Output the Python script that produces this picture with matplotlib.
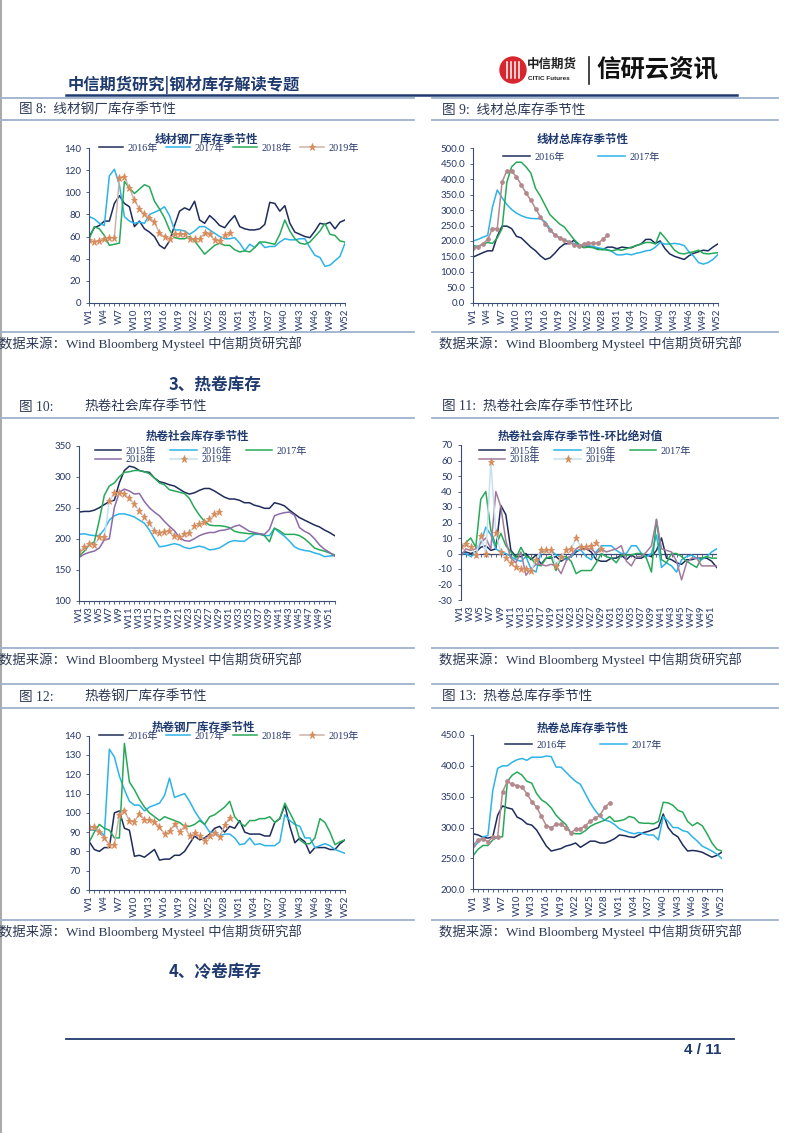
import matplotlib
matplotlib.use('Agg')
import matplotlib.pyplot as plt
from matplotlib.lines import Line2D
from matplotlib.patches import Ellipse
from matplotlib.font_manager import FontProperties
import numpy as np

plt.rcParams['font.family'] = ['Noto Sans CJK SC', 'DejaVu Sans']

# ---------------- data ----------------
weeks = list(range(1, 53))

# Fig 8: wire rod mill inventory
w1_2016 = [60,68,70,74,74,90,97,90,87,69,74,67,64,60,52,49,56,70,83,86,84,92,75,72,79,75,70,68,74,79,69,67,66,66,67,71,91,90,83,88,72,64,62,60,59,65,72,71,73,67,73,75]
w1_2017 = [78,76,72,70,115,121,107,78,74,72,73,72,80,82,84,87,79,66,66,65,62,65,69,69,66,63,60,58,58,59,54,47,53,50,55,50,51,51,55,58,57,57,58,58,50,43,41,33,34,38,42,54]
w1_2018 = [58,69,67,61,52,53,54,110,104,99,103,107,105,92,85,77,66,59,58,58,60,56,50,44,48,52,54,52,52,48,46,47,46,50,55,55,54,53,62,75,65,58,54,53,55,60,65,72,62,61,56,55]
w1_2019 = [57,55,56,58,59,59,113,114,104,93,85,80,77,73,63,60,58,62,62,62,58,58,58,63,62,57,56,61,63]

# Fig 9: wire rod total inventory
w2_2016 = [148,155,162,168,168,215,248,248,240,215,210,195,180,168,152,140,145,160,178,190,192,202,188,180,182,180,175,172,180,180,175,180,178,178,185,190,205,205,192,200,175,158,150,145,140,152,160,165,170,168,180,190]
w2_2017 = [200,205,212,218,310,365,340,318,302,290,282,276,273,272,272,262,240,218,210,203,197,192,187,185,185,182,178,175,172,165,155,155,158,155,160,163,168,170,180,195,190,190,192,190,185,165,150,130,125,130,140,155]
w2_2018 = [185,182,190,195,192,210,240,390,440,455,455,440,420,370,345,315,285,270,255,245,225,205,190,178,180,178,172,172,170,168,172,170,175,180,185,190,195,195,190,228,210,190,170,160,158,162,165,170,160,158,160,162]
w2_2019 = [178,180,190,205,240,240,390,428,425,408,382,355,332,305,278,255,235,220,210,203,195,188,182,190,193,193,192,205,218]

# Fig 10: HRC social inventory
w3_2015 = [243,244,244,246,250,255,260,262,290,310,317,315,310,308,307,298,292,290,287,285,280,275,272,274,278,281,281,277,272,267,264,264,262,258,258,254,252,249,249,258,256,253,246,240,234,230,226,222,219,214,210,205]
w3_2016 = [207,208,206,205,205,215,230,237,240,240,238,235,230,225,214,200,187,188,190,192,190,186,184,186,188,186,182,183,185,190,195,197,196,196,202,207,207,205,205,217,210,204,196,187,183,181,180,177,175,171,172,173]
w3_2017 = [172,180,190,195,230,270,285,290,300,307,308,310,310,308,305,298,290,287,279,277,275,273,265,250,238,228,222,221,221,220,218,212,210,209,208,208,208,205,195,217,213,207,207,207,205,200,193,185,182,180,177,174]
w3_2018 = [170,175,178,180,185,198,200,250,275,280,277,272,273,260,250,243,237,228,220,213,202,197,196,200,205,208,210,210,213,214,216,220,222,217,212,210,208,207,215,237,240,242,243,238,218,212,208,200,190,183,178,172]
w3_2019 = [180,186,191,190,202,202,261,274,274,272,265,256,244,235,225,213,209,211,213,205,203,207,210,220,223,227,232,240,243]

# Fig 11: HRC social inventory week-on-week change
w4_2015 = [0,1,0,1,4,5,2,3,31,25,2,-2,-2,0,-4,-1,-7,-3,-3,-2,-5,-3,-2,1,3,3,1,-4,-5,-5,-3,-3,-1,-4,-1,-3,-3,-1,-2,2,10,-3,-4,-6,-7,-4,-4,-3,-3,-3,-5,-9]
w4_2016 = [0,0,-2,0,7,17,12,3,1,0,-2,-4,-5,-2,-10,-12,1,2,2,-1,-2,-4,-2,2,2,-2,-4,1,5,5,5,2,0,0,5,5,0,-2,0,12,-9,-6,-8,-12,-4,-2,-1,-3,-4,-2,1,3]
w4_2017 = [3,7,10,4,35,40,15,5,13,5,1,-3,4,-2,-3,-7,-8,-3,-2,-11,-2,-2,-5,-13,-11,-11,-11,-6,0,-2,-3,-6,-1,-1,-1,0,0,-3,-12,22,-4,-6,0,0,-2,-5,-7,-9,-3,-2,-3,-3]
w4_2018 = [-2,3,2,3,7,10,3,40,30,8,-3,-6,1,-14,-10,-7,-7,-8,-7,-8,-13,-5,-1,3,5,3,3,0,3,1,2,3,5,-5,-8,-2,-2,1,5,22,3,2,1,-5,-17,-6,-3,-3,-8,-8,-8,-8]
w4_2019 = [5,6,4,-1,11,0,59,13,1,-3,-6,-9,-10,-10,-11,-4,2,2,2,-8,-2,2,3,10,4,4,5,7,3]

# Fig 12: HRC mill inventory
w5_2016 = [85,81,80,82,82,100,101,92,91,77.5,78,77,79,81,75.5,76,76,78,78,80,84,88,86,87,89,92,93,90,93,92,96,90,89,89,89,88,88,95,97,104,93,84.5,87,85,79,82,82,82,81,81,84,86]
w5_2017 = [91,91,91,88,133,129,119,112,106,104,104,101,103,104,105,109,118,108,109,110,106,101,97,94,90,90,88,89,89,87,83.5,84,87,83.5,84,83,83,83,85,99,96,94,93,87,87,82,83,84,83,81,80,79]
w5_2018 = [85,90,94,92,91,87,87,136,116,112,107,103,100,98,96,98,97,96,95,93,93,94,96,94,98,99,101,103,106,98,95,93,96,96,97,97,98,95,97,105,100,95,86,84,84,87,97,95,90,83.5,85,86]
w5_2019 = [92.5,92.5,90,87,83.5,83.5,99,101,96,95.5,99.5,96.5,96.5,95.5,92.5,89,90.5,94,90,93,88,89.5,88,85.5,88,89.5,87.5,93.5,97.5]

# Fig 13: HRC total inventory
w6_2016 = [290,288,284,283,285,320,335,332,330,317,313,306,304,296,283,270,262,264,266,270,272,275,268,273,278,278,275,275,278,282,288,287,285,284,288,292,294,297,300,322,300,290,285,272,262,263,262,260,256,252,255,260]
w6_2017 = [268,276,285,287,360,396,400,400,406,410,412,409,414,414,414,416,415,398,398,390,382,375,370,355,340,328,318,312,310,305,298,295,292,290,292,290,288,288,280,318,310,300,300,295,293,285,278,270,266,262,257,250]
w6_2018 = [255,265,271,271,280,285,285,375,385,390,385,375,372,355,345,340,332,320,312,305,292,290,290,295,302,306,309,312,318,310,311,313,318,316,308,307,307,306,310,341,340,336,328,325,310,303,308,303,290,275,265,262]
w6_2019 = [272,280,282,277,285,285,358,375,370,368,366,355,342,333,318,303,300,305,305,300,292,297,298,303,310,315,320,333,340]

# ---------------- style ----------------
W, H = 802, 1133
fig = plt.figure(figsize=(W / 100, H / 100), dpi=100)

C_DARK = '#1E2C5A'
C_BLUE = '#2DB3E8'
C_GREEN = '#27A95A'
C_PURPLE = '#8B6BA8'
C_PURPLE4 = '#A27A9E'
C_ORANGE = '#D98B5A'
C_19A = '#CDB3AC'
C_19T = '#B3898E'
C_19C = '#C8E0EE'
TXT = '#26386A'
AXC = '#3B4C75'
NAVY = '#1F3A6E'
LINEC = '#9DB1CE'

TICKFONT = 'Lato'
TICKSIZE = 7.0
LEGPROP = FontProperties(family=['Liberation Serif', 'Noto Sans CJK SC'], size=7.3)
SERIF_CJK = ['Liberation Serif', 'Noto Sans CJK SC']


def fx(x):
    return x / W


def fy(y):
    return 1 - y / H


def add_ax(x0, y0, x1, y1):
    return fig.add_axes([x0 / W, 1 - y1 / H, (x1 - x0) / W, (y1 - y0) / H])


def style_axes(ax, ylim, yticks, yfmt, xstep, zero_axis=False):
    ax.set_xlim(1, 52)
    ax.set_ylim(*ylim)
    ax.set_yticks(yticks)
    ax.set_yticklabels([yfmt.format(v) for v in yticks], fontsize=TICKSIZE,
                       color=TXT, family=TICKFONT)
    ax.set_xticks(weeks)
    ax.set_xticklabels([f'W{w}' if (w - 1) % xstep == 0 else '' for w in weeks],
                       rotation=90, fontsize=TICKSIZE, color=TXT, family=TICKFONT)
    for s in ['top', 'right']:
        ax.spines[s].set_visible(False)
    for s in ['left', 'bottom']:
        ax.spines[s].set_color(AXC)
        ax.spines[s].set_linewidth(0.8)
    ax.tick_params(axis='both', length=2.5, width=0.6, color=AXC, pad=1.5)
    ax.tick_params(axis='y', pad=3.5)
    ax.patch.set_alpha(0)
    if zero_axis:
        ax.spines['bottom'].set_visible(False)
        ax.tick_params(axis='x', length=0, pad=4)
        ax.axhline(0, color=AXC, lw=0.9, zorder=1)
        ax.vlines(weeks, -2.0, 0, color=AXC, lw=0.6, zorder=1)


def legend_row(ax, handles, labels, x, y, hl, cs, add=False):
    leg = ax.legend(handles, labels, ncol=len(handles), loc='center left',
                    bbox_to_anchor=(fx(x), fy(y)), bbox_transform=fig.transFigure,
                    frameon=False, prop=LEGPROP, handlelength=hl, handletextpad=0.45,
                    columnspacing=cs, borderpad=0, borderaxespad=0)
    for t in leg.get_texts():
        t.set_color(TXT)
    if add:
        ax.add_artist(leg)
    return leg


def title(x, y, s):
    fig.text(fx(x), fy(y), s, fontsize=8.3, weight='bold', color=NAVY,
             ha='center', va='center')


MK19 = dict(marker='*', ms=5.2, mfc=C_ORANGE, mec=C_ORANGE, mew=0.6)

# ---------------- page decorations ----------------
fig.add_artist(Line2D([fx(1), fx(1)], [0, 1], color='#9A9A9A', lw=1.2))

fig.text(fx(68), fy(85), '中信期货研究|钢材库存解读专题', fontsize=11.7,
         weight='bold', color=NAVY, va='center')
fig.add_artist(Ellipse((fx(513), fy(70)), 26 / W, 26 / H, color='#D7262E'))
for dx in (-6, -2, 2, 6):
    fig.add_artist(Line2D([fx(513 + dx), fx(513 + dx)], [fy(62), fy(78)],
                          color='white', lw=1.1))
fig.text(fx(527), fy(64), '中信期货', fontsize=9, weight='bold', color='#222222', va='center')
fig.text(fx(528), fy(79), 'CITIC Futures', fontsize=4.6, weight='bold',
         color='#222222', va='center', family='Liberation Sans')
fig.add_artist(Line2D([fx(589), fx(589)], [fy(57), fy(84)], color='#222222', lw=1.2))
fig.text(fx(596), fy(70), '信研云资讯', fontsize=17.6, weight='bold', color='#111111', va='center')

fig.add_artist(Line2D([fx(66), fx(737)], [fy(95), fy(95)], color=NAVY, lw=1.8))
for yy in (98, 120, 332, 418, 648, 684, 708, 920):
    fig.add_artist(Line2D([fx(0), fx(414)], [fy(yy), fy(yy)], color=LINEC, lw=1.3))
    fig.add_artist(Line2D([fx(432), fx(778)], [fy(yy), fy(yy)], color=LINEC, lw=1.3))

CAPC = '#2E3B55'
def caption(x, y, s):
    fig.text(fx(x), fy(y), s, fontsize=9.8, color=CAPC, va='center', family=SERIF_CJK)

caption(19, 110, '图 8:  线材钢厂库存季节性')
caption(442, 110, '图 9:  线材总库存季节性')
caption(19, 407, '图 10:')
caption(84, 407, '热卷社会库存季节性')
caption(442, 407, '图 11:  热卷社会库存季节性环比')
caption(19, 697, '图 12:')
caption(84, 697, '热卷钢厂库存季节性')
caption(442, 697, '图 13:  热卷总库存季节性')

SRC = '数据来源：Wind Bloomberg Mysteel 中信期货研究部'
for (xx, yy) in ((-1, 344), (439, 344), (-1, 660), (439, 660), (-1, 932), (439, 932)):
    fig.text(fx(xx), fy(yy), SRC, fontsize=9.6, color=CAPC, va='center', family=SERIF_CJK)

fig.text(fx(169), fy(385), '3、热卷库存', fontsize=12, weight='bold', color=NAVY, va='center')
fig.text(fx(169), fy(972), '4、冷卷库存', fontsize=12, weight='bold', color=NAVY, va='center')
fig.add_artist(Line2D([fx(66), fx(734)], [fy(1039), fy(1039)], color=NAVY, lw=1.3))
fig.text(fx(721), fy(1050), '4 / 11', fontsize=11, weight='bold', color=NAVY,
         ha='right', va='center', family='Liberation Sans')

# ---------------- chart 1 ----------------
ax = add_ax(89.3, 148.3, 345, 302.7)
l1, = ax.plot(weeks, w1_2016, color=C_DARK, lw=1.1)
l2, = ax.plot(weeks, w1_2017, color=C_BLUE, lw=1.1)
l3, = ax.plot(weeks, w1_2018, color=C_GREEN, lw=1.1)
l4, = ax.plot(weeks[:len(w1_2019)], w1_2019, color=C_19A, lw=1.1, **MK19)
style_axes(ax, (0, 140), list(range(0, 141, 20)), '{:d}', 3)
legend_row(ax, [l1, l2, l3, l4], ['2016年', '2017年', '2018年', '2019年'], 99, 148, 2.4, 0.75)
title(206, 139, '线材钢厂库存季节性')

# ---------------- chart 2 ----------------
ax = add_ax(473.3, 148.3, 717.7, 302.7)
l1, = ax.plot(weeks, w2_2016, color=C_DARK, lw=1.1)
l2, = ax.plot(weeks, w2_2017, color=C_BLUE, lw=1.1)
l3, = ax.plot(weeks, w2_2018, color=C_GREEN, lw=1.1)
l4, = ax.plot(weeks[:len(w2_2019)], w2_2019, color=C_19T, lw=1.1, marker='o',
              ms=2.4, mfc=C_19T, mec=C_19T)
style_axes(ax, (0, 500), list(range(0, 501, 50)), '{:.1f}', 3)
legend_row(ax, [l1, l2], ['2016年', '2017年'], 503, 157, 2.7, 3.2)
title(583, 139, '线材总库存季节性')

# ---------------- chart 3 ----------------
ax = add_ax(79.3, 445.7, 334.5, 600.7)
l0, = ax.plot(weeks, w3_2015, color=C_DARK, lw=1.1)
l1, = ax.plot(weeks, w3_2016, color=C_BLUE, lw=1.1)
l2, = ax.plot(weeks, w3_2017, color=C_GREEN, lw=1.1)
l3, = ax.plot(weeks, w3_2018, color=C_PURPLE, lw=1.1)
l4, = ax.plot(weeks[:len(w3_2019)], w3_2019, color=C_19C, lw=1.1, **MK19)
style_axes(ax, (100, 350), list(range(100, 351, 50)), '{:d}', 2)
legend_row(ax, [l0, l1, l2], ['2015年', '2016年', '2017年'], 95, 451, 2.6, 1.4, add=True)
legend_row(ax, [l3, l4], ['2018年', '2019年'], 95, 459.5, 2.6, 1.4)
title(197, 436, '热卷社会库存季节性')

# ---------------- chart 4 ----------------
ax = add_ax(460.7, 445, 716.7, 600)
l0, = ax.plot(weeks, w4_2015, color=C_DARK, lw=1.1)
l1, = ax.plot(weeks, w4_2016, color=C_BLUE, lw=1.1)
l2, = ax.plot(weeks, w4_2017, color=C_GREEN, lw=1.1)
l3, = ax.plot(weeks, w4_2018, color=C_PURPLE4, lw=1.1)
l4, = ax.plot(weeks[:len(w4_2019)], w4_2019, color=C_19C, lw=1.1, **MK19)
style_axes(ax, (-30, 70), list(range(-30, 71, 10)), '{:d}', 2, zero_axis=True)
legend_row(ax, [l0, l1, l2], ['2015年', '2016年', '2017年'], 479, 451, 2.6, 1.4, add=True)
legend_row(ax, [l3, l4], ['2018年', '2019年'], 479, 459.5, 2.6, 1.4)
title(580, 436, '热卷社会库存季节性-环比绝对值')

# ---------------- chart 5 ----------------
ax = add_ax(89.3, 735.7, 345, 890)
l1, = ax.plot(weeks, w5_2016, color=C_DARK, lw=1.1)
l2, = ax.plot(weeks, w5_2017, color=C_BLUE, lw=1.1)
l3, = ax.plot(weeks, w5_2018, color=C_GREEN, lw=1.1)
l4, = ax.plot(weeks[:len(w5_2019)], w5_2019, color=C_19A, lw=1.1, **MK19)
style_axes(ax, (60, 140), list(range(60, 141, 10)), '{:d}', 3)
legend_row(ax, [l1, l2, l3, l4], ['2016年', '2017年', '2018年', '2019年'], 99, 736, 2.4, 0.75)
title(203, 727, '热卷钢厂库存季节性')

# ---------------- chart 6 ----------------
ax = add_ax(473.3, 735, 721.7, 889.3)
l1, = ax.plot(weeks, w6_2016, color=C_DARK, lw=1.1)
l2, = ax.plot(weeks, w6_2017, color=C_BLUE, lw=1.1)
l3, = ax.plot(weeks, w6_2018, color=C_GREEN, lw=1.1)
l4, = ax.plot(weeks[:len(w6_2019)], w6_2019, color=C_19T, lw=1.1, marker='o',
              ms=2.4, mfc=C_19T, mec=C_19T)
style_axes(ax, (200, 450), list(range(200, 451, 50)), '{:.1f}', 3)
legend_row(ax, [l1, l2], ['2016年', '2017年'], 505, 745, 2.7, 3.2)
title(583, 728, '热卷总库存季节性')

fig.savefig('out.png', dpi=100, facecolor='white')
